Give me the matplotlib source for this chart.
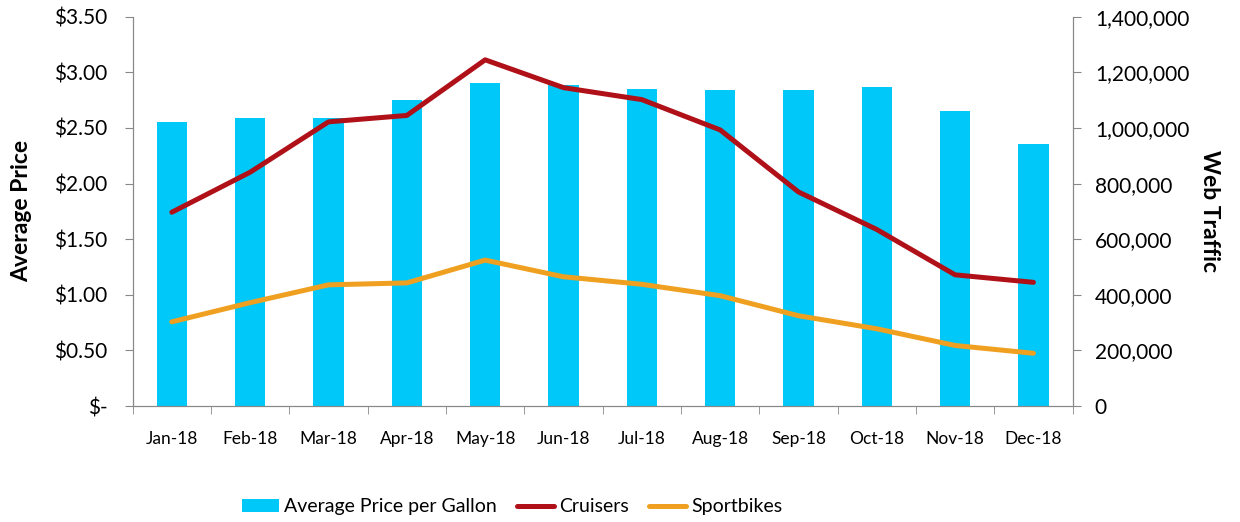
import numpy as np
import matplotlib
matplotlib.use('Agg')
import matplotlib.pyplot as plt
from matplotlib.ticker import FuncFormatter, MultipleLocator

months = ['Jan-18', 'Feb-18', 'Mar-18', 'Apr-18', 'May-18', 'Jun-18',
          'Jul-18', 'Aug-18', 'Sep-18', 'Oct-18', 'Nov-18', 'Dec-18']
avg_price = [2.55, 2.59, 2.59, 2.75, 2.90, 2.89, 2.85, 2.84, 2.84, 2.87, 2.65, 2.36]
cruisers = [697000, 841000, 1022000, 1045000, 1245000, 1145000, 1102000, 993000,
            770000, 635000, 472000, 445000]
sportbikes = [303000, 372000, 436000, 443000, 525000, 465000, 438000, 397000,
              325000, 278000, 218000, 190000]

plt.rcParams['font.family'] = ['Lato', 'DejaVu Sans']

fig, ax1 = plt.subplots(figsize=(12.4, 5.22), dpi=100)
fig.subplots_adjust(left=0.107, right=0.865, top=0.968, bottom=0.222)

x = np.arange(len(months))
bars = ax1.bar(x, avg_price, width=0.39, color='#00C8F8', label='Average Price per Gallon', zorder=1)
ax1.set_ylim(0, 3.5)
ax1.set_xlim(-0.5, len(months) - 0.5)
ax1.yaxis.set_major_locator(MultipleLocator(0.5))
ax1.yaxis.set_major_formatter(FuncFormatter(lambda v, p: '$-' if v == 0 else f'${v:.2f}'))
ax1.set_ylabel('Average Price', fontsize=16.5, fontweight='bold', labelpad=16)
ax1.set_xticks(x)
ax1.set_xticklabels(months, fontsize=12.5)
ax1.set_xticks(np.arange(-0.5, len(months), 1), minor=True)
ax1.tick_params(axis='x', which='major', length=0, pad=18)
ax1.tick_params(axis='x', which='minor', length=6, color='#888888')
ax1.tick_params(axis='y', labelsize=15, length=6, color='#888888', pad=12)

ax2 = ax1.twinx()
l1, = ax2.plot(x, cruisers, color='#B01018', linewidth=3.6, label='Cruisers', solid_capstyle='round')
l2, = ax2.plot(x, sportbikes, color='#F0A020', linewidth=3.6, label='Sportbikes', solid_capstyle='round')
ax2.set_ylim(0, 1400000)
ax2.yaxis.set_major_locator(MultipleLocator(200000))
ax2.yaxis.set_major_formatter(FuncFormatter(lambda v, p: f'{int(v):,}'))
ax2.set_ylabel('Web Traffic', fontsize=16.5, fontweight='bold', rotation=270, labelpad=22)
ax2.tick_params(axis='y', labelsize=15, length=6, color='#888888', pad=10)

for ax in (ax1, ax2):
    ax.spines['top'].set_visible(False)
    for s in ('left', 'right', 'bottom'):
        ax.spines[s].set_color('#888888')

fig.legend(handles=[bars, l1, l2], loc='center', bbox_to_anchor=(0.413, 0.029),
           ncol=3, frameon=False, fontsize=14, handlelength=1.9, columnspacing=1.0,
           handletextpad=0.3)

fig.savefig('out.png', dpi=100)
